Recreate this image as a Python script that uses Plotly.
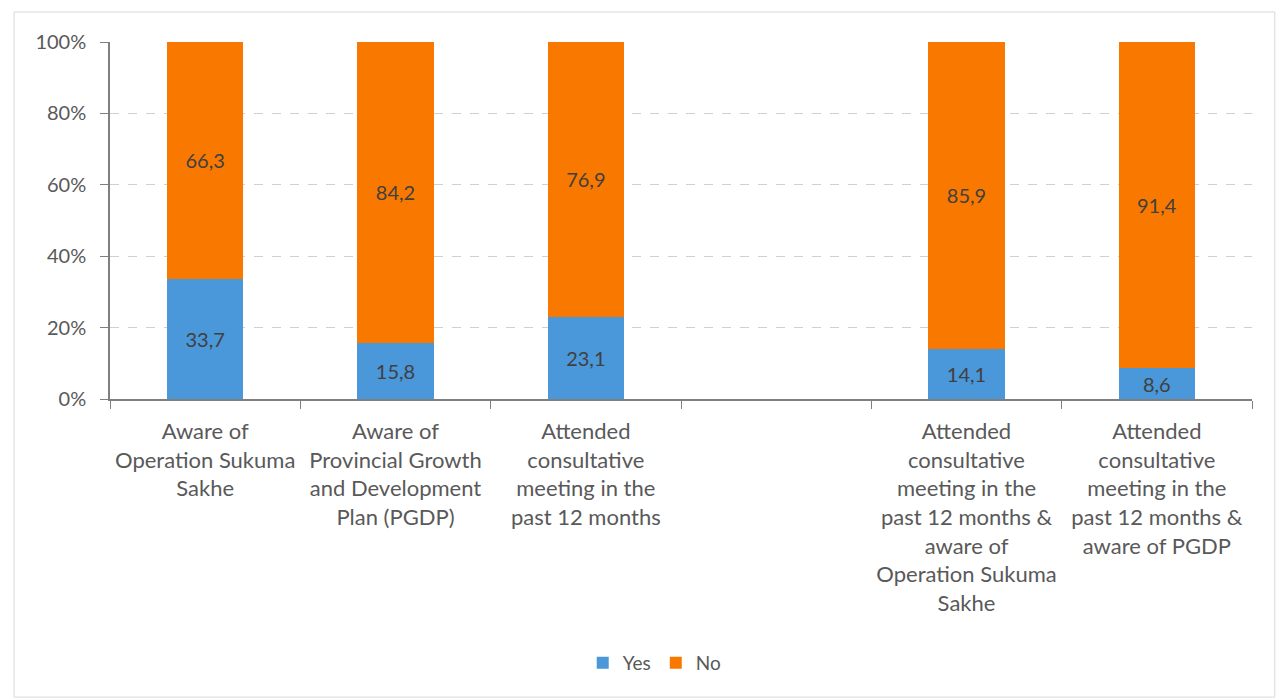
import plotly.graph_objects as go

categories = [
    "Aware of<br>Operation Sukuma<br>Sakhe",
    "Aware of<br>Provincial Growth<br>and Development<br>Plan (PGDP)",
    "Attended<br>consultative<br>meeting in the<br>past 12 months",
    " ",
    "Attended<br>consultative<br>meeting in the<br>past 12 months &<br>aware of<br>Operation Sukuma<br>Sakhe",
    "Attended<br>consultative<br>meeting in the<br>past 12 months &<br>aware of PGDP",
]
yes_values = [33.7, 15.8, 23.1, None, 14.1, 8.6]
no_values = [66.3, 84.2, 76.9, None, 85.9, 91.4]
y_tick_vals = [0, 20, 40, 60, 80, 100]
y_tick_text = ["0%", "20%", "40%", "60%", "80%", "100%"]

FONT = "Lato"
fig = go.Figure()
fig.add_trace(go.Bar(
    name="Yes", x=categories, y=yes_values, marker=dict(color="#4a97da", line=dict(width=0)),
    texttemplate="%{y:.1f}", textposition="inside", insidetextanchor="middle",
    textangle=0, textfont=dict(color="#404040", size=20, family=FONT),
))
fig.add_trace(go.Bar(
    name="No", x=categories, y=no_values, marker=dict(color="#f97900", line=dict(width=0)),
    texttemplate="%{y:.1f}", textposition="inside", insidetextanchor="middle",
    textangle=0, textfont=dict(color="#404040", size=20, family=FONT),
))

fig.update_layout(
    barmode="stack",
    bargap=0.6,
    width=1279, height=700,
    margin=dict(l=110, r=27, t=42, b=301),
    paper_bgcolor="white", plot_bgcolor="white",
    separators=", ",
    uniformtext=dict(minsize=19, mode="show"),
    font=dict(family=FONT, color="#595959", size=19),
    showlegend=True,
    legend=dict(orientation="h", x=0.477, xanchor="center", y=-0.739, yanchor="middle",
                font=dict(size=19, color="#595959", family=FONT), traceorder="normal",
                itemwidth=30),
    shapes=[dict(type="rect", xref="paper", yref="paper",
                 x0=-0.084, x1=1.02, y0=-0.835, y1=1.084,
                 line=dict(color="#d9d9d9", width=1), layer="below")],
)
fig.update_xaxes(
    type="category", showline=True, linecolor="#7f7f7f", linewidth=1.5,
    ticks="outside", tickson="boundaries", ticklen=8, tickcolor="#7f7f7f",
    ticklabelstandoff=12,
    tickangle=0, tickfont=dict(size=22, color="#595959", family=FONT), showgrid=False,
)
fig.update_yaxes(
    range=[0, 100], tickvals=y_tick_vals, ticktext=y_tick_text,
    showline=True, linecolor="#7f7f7f", linewidth=1.5,
    ticks="outside", ticklen=8, tickcolor="#7f7f7f", ticklabelstandoff=10,
    tickfont=dict(size=20, color="#595959", family=FONT),
    showgrid=True, gridcolor="#d0d0d0", griddash="dash", gridwidth=1, zeroline=False,
)
fig.write_html("out.html")
